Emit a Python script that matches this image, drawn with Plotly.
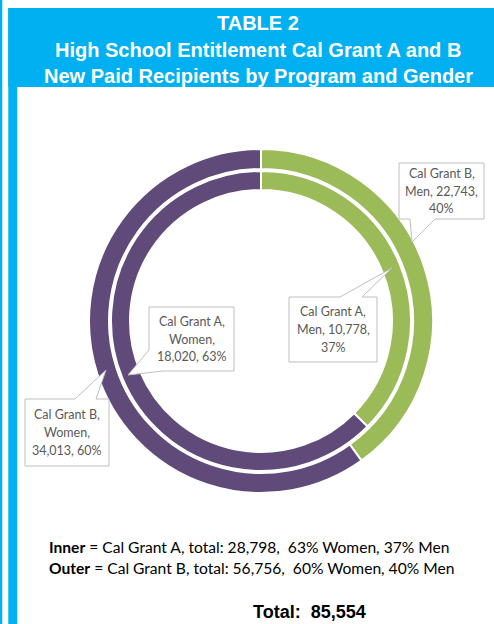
import plotly.graph_objects as go

# ---- data ----
genders = ["Men", "Women"]
grant_a = [10778, 18020]   # inner ring, Cal Grant A
grant_b = [22743, 34013]   # outer ring, Cal Grant B
title_lines = ["TABLE 2", "High School Entitlement Cal Grant A and B",
               "New Paid Recipients by Program and Gender"]
colors = ["#9BBB59", "#5F4A7A"]

W, H = 494, 624
CX, CY = 261, 321          # donut centre (px from top-left)
R_OUT, R_IN = 172, 150


def dom(r):
    return dict(x=[(CX - r) / W, (CX + r) / W],
                y=[(H - CY - r) / H, (H - CY + r) / H])


fig = go.Figure()
fig.add_trace(go.Pie(labels=genders, values=grant_b, sort=False, direction="clockwise",
                     rotation=0, hole=152 / R_OUT, domain=dom(R_OUT), textinfo="none",
                     hoverinfo="skip", showlegend=False,
                     marker=dict(colors=colors, line=dict(color="white", width=2))))
fig.add_trace(go.Pie(labels=genders, values=grant_a, sort=False, direction="clockwise",
                     rotation=0, hole=131 / R_IN, domain=dom(R_IN), textinfo="none",
                     hoverinfo="skip", showlegend=False,
                     marker=dict(colors=colors, line=dict(color="white", width=2))))

# pixel-coordinate overlay axes
fig.update_layout(
    width=W, height=H, margin=dict(l=0, r=0, t=0, b=0),
    paper_bgcolor="white", plot_bgcolor="rgba(0,0,0,0)",
    xaxis=dict(range=[0, W], visible=False, fixedrange=True),
    yaxis=dict(range=[H, 0], visible=False, fixedrange=True),
)
fig.add_trace(go.Scatter(x=[0], y=[0], mode="markers", marker=dict(opacity=0),
                         showlegend=False, hoverinfo="skip"))

BLUE = "#00B0F0"
shapes = [
    dict(type="rect", x0=0, x1=2.3, y0=0, y1=H, fillcolor=BLUE, line_width=0),
    dict(type="rect", x0=8.3, x1=W, y0=8, y1=87, fillcolor=BLUE, line_width=0),
    dict(type="rect", x0=8.3, x1=17.3, y0=8, y1=H, fillcolor=BLUE, line_width=0),
]


def path_from(points):
    return "M " + " L ".join(f"{x},{y}" for x, y in points) + " Z"


# callout outlines (box corners with pointer inserted)
boxes = [
    [(399, 163), (484, 163), (484, 219), (435, 219), (412, 242), (410, 219), (399, 219)],
    [(289, 297), (340, 297), (392, 268), (362, 297), (377, 297), (377, 362), (289, 362)],
    [(149, 307), (234, 307), (234, 371), (163, 371), (128, 375), (149, 350)],
    [(25, 399), (75, 399), (106, 370), (96, 399), (109, 399), (109, 466), (25, 466)],
]
for pts in boxes:
    shapes.append(dict(type="path", path=path_from(pts), xref="x", yref="y",
                       fillcolor="white", line=dict(color="#BFBFBF", width=1)))
fig.update_layout(shapes=shapes)

tot_a, tot_b = sum(grant_a), sum(grant_b)
pa = [round(v * 100 / tot_a) for v in grant_a]
pb = [round(v * 100 / tot_b) for v in grant_b]

LBL = dict(family="Lato, Carlito, sans-serif", size=12.5, color="#595959")
labels = [
    ((441.5, 191), [f"Cal Grant B,", f"{genders[0]}, {grant_b[0]:,},", f"{pb[0]}%"]),
    ((333, 329.5), [f"Cal Grant A,", f"{genders[0]}, {grant_a[0]:,},", f"{pa[0]}%"]),
    ((191.5, 339), [f"Cal Grant A,", f"{genders[1]},", f"{grant_a[1]:,}, {pa[1]}%"]),
    ((67, 432.5), [f"Cal Grant B,", f"{genders[1]},", f"{grant_b[1]:,}, {pb[1]}%"]),
]
ann = []
LS = 17.8
for (x, y), lines in labels:
    for i, t in enumerate(lines):
        ann.append(dict(x=x, y=y + (i - 1) * LS, xref="x", yref="y", text=t,
                        showarrow=False, font=LBL, xanchor="center", yanchor="middle"))

TF = dict(family="Liberation Sans, Arial, sans-serif", size=20, color="white")
for yy, t in zip([23, 49.5, 76], title_lines):
    ann.append(dict(x=258, y=yy, xref="x", yref="y", text=f"<b>{t}</b>", showarrow=False,
                    font=TF, xanchor="center", yanchor="middle"))

BF = dict(family="Lato, Carlito, sans-serif", size=15.6, color="black")
ann.append(dict(x=47, y=547, xref="x", yref="y", showarrow=False, xanchor="left",
                yanchor="middle", font=BF,
                text=f"<b>Inner</b> = Cal Grant A, total: {tot_a:,},  {pa[1]}% Women, {pa[0]}% Men"))
ann.append(dict(x=47, y=568, xref="x", yref="y", showarrow=False, xanchor="left",
                yanchor="middle", font=BF,
                text=f"<b>Outer</b> = Cal Grant B, total: {tot_b:,},  {pb[1]}% Women, {pb[0]}% Men"))
ann.append(dict(x=309.5, y=612, xref="x", yref="y", showarrow=False, xanchor="center",
                yanchor="middle",
                font=dict(family="Liberation Sans, Arial, sans-serif", size=18, color="black"),
                text=f"<b>Total:  {tot_a + tot_b:,}</b>"))
fig.update_layout(annotations=ann)

fig.write_html("out.html", config={"displayModeBar": False},
               post_script="document.body.style.margin='0';document.body.style.overflow='hidden';")
